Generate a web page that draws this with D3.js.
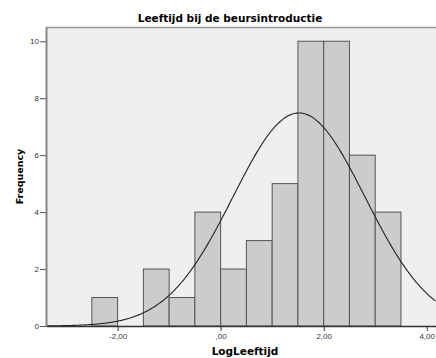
<!DOCTYPE html>
<html>
<head>
<meta charset="utf-8">
<script src="https://cdn.jsdelivr.net/npm/d3@7"></script>
<style>
  body { margin: 0; background: #fff; }
  svg { display: block; font-family: "DejaVu Sans", sans-serif; }
</style>
</head>
<body>
<svg id="chart"></svg>
<script>
// histogram bins (lower edge, upper edge) and counts
const binStarts = [-2.5, -2.0, -1.5, -1.0, -0.5, 0.0, 0.5, 1.0, 1.5, 2.0, 2.5, 3.0]
const binWidth = 0.5
const counts = [1, 0, 2, 1, 4, 2, 3, 5, 10, 10, 6, 4]
// fitted normal curve parameters
const fitMean = 1.52, fitSd = 1.28, fitN = 48
const xTicks = [-2, 0, 2, 4]
const yTicks = [0, 2, 4, 6, 8, 10]
const xDomain = [-3.39, 4.18]

const svgWidth = 436, svgHeight = 358
const margin = { top: 27, right: 0, bottom: 32, left: 46 }
const width = svgWidth - margin.left - margin.right
const height = svgHeight - margin.top - margin.bottom

const svg = d3.select("#chart")
  .attr("width", svgWidth)
  .attr("height", svgHeight)

const g = svg.append("g")
  .attr("transform", `translate(${margin.left},${margin.top})`)

const xs = d3.scaleLinear().domain(xDomain).range([0, width])
const ys = d3.scaleLinear().domain([0, 10.5]).range([height, 0])

// plot background
g.append("rect")
  .attr("width", width).attr("height", height)
  .attr("fill", "#efefef")

// top border
g.append("line")
  .attr("x1", 0).attr("x2", width)
  .attr("y1", 0.5).attr("y2", 0.5)
  .attr("stroke", "#999").attr("stroke-width", 1.5)

const bins = binStarts.map((s, i) => ({ x0: s, x1: s + binWidth, n: counts[i] }))
  .filter(d => d.n > 0)

g.selectAll("rect.bar")
  .data(bins)
  .join("rect")
    .attr("class", "bar")
    .attr("x", d => xs(d.x0))
    .attr("y", d => ys(d.n))
    .attr("width", d => xs(d.x1) - xs(d.x0))
    .attr("height", d => ys(0) - ys(d.n))
    .attr("fill", "#cccccc")
    .attr("stroke", "#555")
    .attr("stroke-width", 1)

// normal curve
const curvePts = d3.range(xDomain[0], xDomain[1] + 0.001, 0.02).map(x => ({
  x: x,
  y: fitN * binWidth / (fitSd * Math.sqrt(2 * Math.PI)) *
     Math.exp(-((x - fitMean) ** 2) / (2 * fitSd * fitSd))
}))
const line = d3.line().x(d => xs(d.x)).y(d => ys(d.y)).curve(d3.curveBasis)
g.append("path")
  .datum(curvePts)
  .attr("fill", "none")
  .attr("stroke", "#222")
  .attr("stroke-width", 1.1)
  .attr("d", line)

// x axis
const xAxis = g.append("g")
  .attr("transform", `translate(0,${height})`)
  .call(d3.axisBottom(xs).tickValues(xTicks).tickSize(5).tickSizeOuter(0)
    .tickFormat(d => d === 0 ? ",00" : d3.format(".2f")(d).replace(".", ",").replace("\u2212", "-")))
xAxis.select(".domain").attr("stroke", "#333").attr("stroke-width", 1.5)
xAxis.selectAll(".tick line").attr("stroke", "#333")
xAxis.selectAll("text").attr("font-size", 8).attr("fill", "#333").attr("dy", "0.75em").attr("y", 7)

// y axis
const yAxis = g.append("g")
  .call(d3.axisLeft(ys).tickValues(yTicks).tickSize(6).tickSizeOuter(0))
yAxis.select(".domain").attr("stroke", "#888").attr("stroke-width", 2)
yAxis.selectAll(".tick line").attr("stroke", "#555")
yAxis.selectAll("text").attr("font-size", 8).attr("fill", "#333").attr("x", -7)

// title
svg.append("text")
  .attr("x", 230).attr("y", 22)
  .attr("text-anchor", "middle")
  .attr("font-size", 10.5).attr("font-weight", "bold")
  .text("Leeftijd bij de beursintroductie")

svg.append("text")
  .attr("x", 245).attr("y", 355)
  .attr("text-anchor", "middle")
  .attr("font-size", 10.5).attr("font-weight", "bold")
  .text("LogLeeftijd")

svg.append("text")
  .attr("transform", `translate(23,${margin.top + height / 2}) rotate(-90)`)
  .attr("text-anchor", "middle")
  .attr("font-size", 9.5).attr("font-weight", "bold")
  .text("Frequency")
</script>
</body>
</html>
